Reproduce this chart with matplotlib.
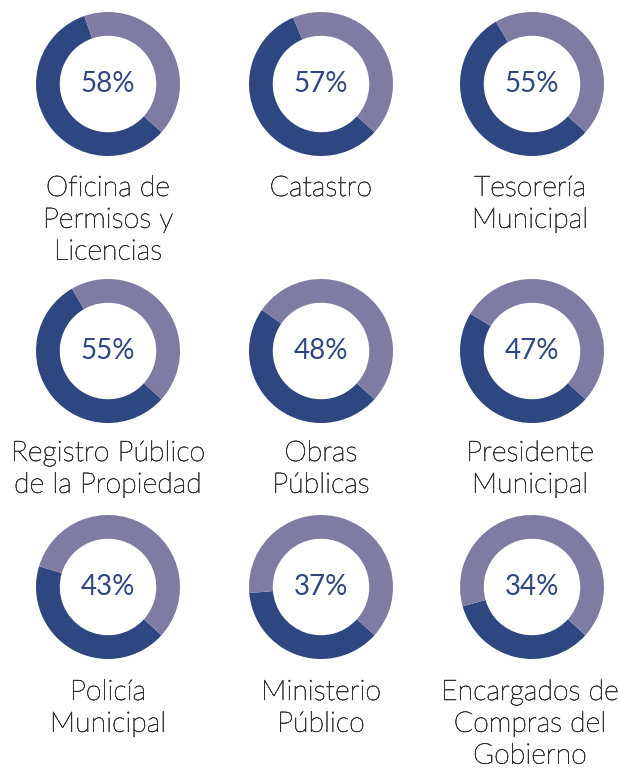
import matplotlib
matplotlib.use("Agg")
import matplotlib.pyplot as plt
import matplotlib.patheffects as pe

# datos
valores = [58, 57, 55, 55, 48, 47, 43, 37, 34]
etiquetas = [
    "Oficina de\nPermisos y\nLicencias",
    "Catastro",
    "Tesorería\nMunicipal",
    "Registro Público\nde la Propiedad",
    "Obras\nPúblicas",
    "Presidente\nMunicipal",
    "Policía\nMunicipal",
    "Ministerio\nPúblico",
    "Encargados de\nCompras del\nGobierno",
]

oscuro = "#2f4780"
claro = "#7f7ca3"
gris = "#333333"

W, H = 619, 769
fig = plt.figure(figsize=(W / 100, H / 100), dpi=100)
fig.patch.set_facecolor("white")

cols_x = [108, 321, 532]
rows_y = [84, 351, 587]
sep_y = [20, 18, 21]  # hueco entre dona y etiqueta
R = 72

for i, (v, lab) in enumerate(zip(valores, etiquetas)):
    cx = cols_x[i % 3]
    cy = rows_y[i // 3]
    ax = fig.add_axes([(cx - R) / W, 1 - (cy + R) / H, 2 * R / W, 2 * R / H])
    ax.pie([v, 100 - v], colors=[oscuro, claro], startangle=-42, counterclock=False,
           radius=1, wedgeprops=dict(width=0.33, linewidth=0))
    ax.set_xlim(-1, 1)
    ax.set_ylim(-1, 1)
    ax.axis("off")
    ax.text(0, 0, f"{v}%", ha="center", va="center", fontsize=20,
            family="Lato", color=oscuro)
    tx = cx - 2 if i % 3 == 2 else cx
    fig.text(tx / W, 1 - (cy + R + sep_y[i // 3]) / H, lab, ha="center", va="top",
             fontsize=20.5, family="Lato", fontweight="light", color=gris,
             linespacing=1.34,
             path_effects=[pe.withStroke(linewidth=0.45, foreground=gris)])

fig.savefig("out.png", dpi=100)
